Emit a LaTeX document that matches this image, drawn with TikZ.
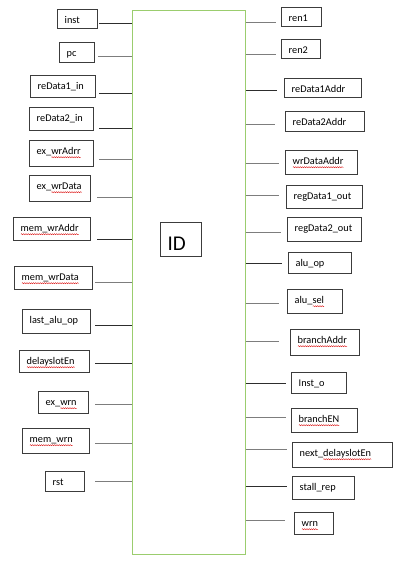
\documentclass[tikz,border=0pt]{standalone}
\usepackage{fontspec}
\setmainfont{Carlito}
\usetikzlibrary{decorations.pathmorphing}
\newlength\sqlen
\newcommand\sqw[1]{\settowidth\sqlen{#1}\rlap{\raisebox{-2.4pt}[0pt][0pt]{\tikz[baseline=0pt]\draw[red!85!black,line width=0.35pt,decorate,decoration={snake,amplitude=0.55pt,segment length=2.2pt}] (0pt,0pt) -- (\sqlen,0pt);}}#1}
\definecolor{blkgreen}{RGB}{155,205,110}
\definecolor{dkline}{RGB}{45,45,45}
\definecolor{ltline}{RGB}{125,125,125}
\definecolor{boxline}{RGB}{60,60,60}
\tikzset{
  box/.style={draw=boxline,line width=0.95pt,rectangle,inner sep=0pt},
  lbl/.style={inner sep=0pt,anchor=base west,font=\fontsize{10.3}{12}\selectfont},
  dk/.style={draw=dkline,line width=0.8pt},
  lt/.style={draw=ltline,line width=0.8pt},
}
% name, x1, y1, x2, y2, text, line x, line y, line style
\newcommand\lbox[9]{%
  \node[box,minimum width={(#4-#2)*1pt},minimum height={(#5-#3)*1pt}] (#1) at ({(#2+#4)/2*1pt},{-(#3+#5)/2*1pt}) {};
  \node[lbl] (#1t) at ({(#2+7.5)*1pt},{-(#3+14.8)*1pt}) {#6};
  \coordinate (#1c) at (#7pt,-#8pt);
  \draw[#9] (#1c) -- (#1c -| blk.west);
}
\newcommand\rbox[9]{%
  \node[box,minimum width={(#4-#2)*1pt},minimum height={(#5-#3)*1pt}] (#1) at ({(#2+#4)/2*1pt},{-(#3+#5)/2*1pt}) {};
  \node[lbl] (#1t) at ({(#2+7.5)*1pt},{-(#3+14.8)*1pt}) {#6};
  \coordinate (#1c) at (#7pt,-#8pt);
  \draw[#9] (blk.east |- #1c) -- (#1c);
}
\begin{document}
\begin{tikzpicture}
\useasboundingbox[fill=white] (0,0) rectangle (401pt,-568pt);
\node[draw=blkgreen,line width=0.9pt,rectangle,inner sep=0pt,minimum width=113pt,minimum height=544pt,anchor=north west] (blk) at (132pt,-10pt) {};
\node[box,minimum width=41pt,minimum height=34pt,anchor=north west] (idb) at (160pt,-222pt) {};
\node[inner sep=0pt,anchor=base west,font=\fontsize{21}{24}\selectfont] (idt) at (167.5pt,-250pt) {ID};
% left side
\lbox{inst}{57}{9}{97}{28}{inst}{99}{23}{dk}
\lbox{pc}{59}{42}{94}{62}{pc}{98}{56}{lt}
\lbox{rda}{30}{75}{95}{97}{reData1\_in}{99}{93}{dk}
\lbox{rdb}{29}{107}{93}{130}{reData2\_in}{99}{128}{dk}
\lbox{exwa}{29}{140}{93}{166}{ex\_\sqw{wrAdrr}}{99}{159}{lt}
\lbox{exwd}{29}{175}{90}{201}{ex\_\sqw{wrData}}{97}{197}{lt}
\lbox{mwa}{13}{217}{90}{240}{\sqw{mem\_wrAddr}}{97}{239}{dk}
\lbox{mwd}{14}{266}{92}{289}{\sqw{mem\_wrData}}{95}{282}{lt}
\lbox{lao}{22}{309}{90}{333}{last\_alu\_op}{95}{325}{dk}
\lbox{dse}{19}{350}{89}{372}{\sqw{delayslotEn}}{95}{363}{dk}
\lbox{exwrn}{38}{391}{88}{413}{ex\_\sqw{wrn}}{95}{404}{lt}
\lbox{memwrn}{22}{428}{89}{453}{\sqw{mem\_wrn}}{95}{443}{lt}
\lbox{rst}{45}{471}{84}{491}{rst}{95}{481}{lt}
% right side
\rbox{rena}{281}{7}{321}{26}{ren1}{276}{22}{lt}
\rbox{renb}{281}{39}{320}{58}{ren2}{276}{54}{lt}
\rbox{raa}{284}{78}{361}{97}{reData1Addr}{277}{90}{dk}
\rbox{rab}{285}{111}{364}{131}{reData2Addr}{275}{124}{lt}
\rbox{wda}{285}{150}{357}{174}{\sqw{wrDataAddr}}{279}{163}{lt}
\rbox{rga}{286}{185}{362}{208}{regData1\_out}{279}{195}{lt}
\rbox{rgb}{287}{217}{361}{241}{regData2\_out}{281}{232}{lt}
\rbox{aop}{288}{252}{351}{273}{alu\_op}{282}{263}{dk}
\rbox{asel}{287}{289}{342}{313}{alu\_\sqw{sel}}{279}{303}{lt}
\rbox{bra}{290}{329}{359}{355}{\sqw{branchAddr}}{279}{341}{lt}
\rbox{insto}{291}{372}{346}{393}{Inst\_o}{286}{383}{dk}
\rbox{ben}{291}{408}{357}{432}{\sqw{branchEN}}{286}{417}{lt}
\rbox{nds}{292}{442}{392}{467}{next\_\sqw{delayslotEn}}{287}{449}{lt}
\rbox{stall}{292}{476}{354}{499}{stall\_rep}{287}{486}{dk}
\rbox{wrn}{294}{512}{333}{534}{\sqw{wrn}}{285}{520}{lt}
\end{tikzpicture}
\end{document}
